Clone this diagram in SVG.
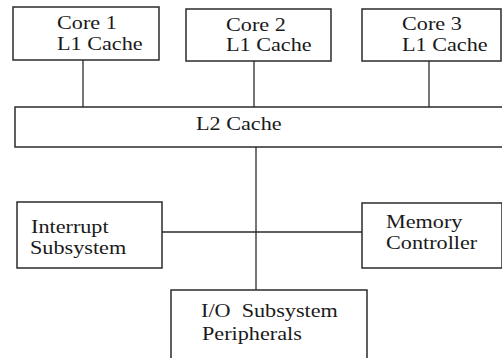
<svg xmlns="http://www.w3.org/2000/svg" width="502" height="358" viewBox="0 0 502 358">
<style>
.box{fill:#fff;stroke:#2b2b2b;stroke-width:1.5}
.ln{stroke:#2b2b2b;stroke-width:1.3;fill:none}
</style>
<rect width="502" height="358" fill="#fff"/>
<g id="connectors">
<line class="ln" x1="83" y1="60" x2="83" y2="107"/>
<line class="ln" x1="254" y1="61" x2="254" y2="107"/>
<line class="ln" x1="429" y1="61" x2="429" y2="107"/>
<line class="ln" x1="256" y1="147" x2="256" y2="290"/>
<line class="ln" x1="162" y1="232" x2="362" y2="232"/>
</g>
<g id="core1">
<rect class="box" x="13" y="7" width="146" height="53"/>
<text transform="translate(57 29) scale(1.2 1)" font-family="Liberation Serif" font-size="18.5" fill="#1a1a1a">Core 1</text>
<text transform="translate(57 50) scale(1.2 1)" font-family="Liberation Serif" font-size="18.5" fill="#1a1a1a">L1 Cache</text>
</g>
<g id="core2">
<rect class="box" x="186" y="9" width="145" height="52"/>
<text transform="translate(226 31) scale(1.2 1)" font-family="Liberation Serif" font-size="18.5" fill="#1a1a1a">Core 2</text>
<text transform="translate(226 51) scale(1.2 1)" font-family="Liberation Serif" font-size="18.5" fill="#1a1a1a">L1 Cache</text>
</g>
<g id="core3">
<rect class="box" x="362" y="9" width="139" height="52"/>
<text transform="translate(402 30) scale(1.2 1)" font-family="Liberation Serif" font-size="18.5" fill="#1a1a1a">Core 3</text>
<text transform="translate(402 51) scale(1.2 1)" font-family="Liberation Serif" font-size="18.5" fill="#1a1a1a">L1 Cache</text>
</g>
<g id="l2cache">
<rect class="box" x="15" y="107" width="500" height="40"/>
<text transform="translate(196 130) scale(1.2 1)" font-family="Liberation Serif" font-size="18.5" fill="#1a1a1a">L2 Cache</text>
</g>
<g id="interrupt">
<rect class="box" x="17" y="202" width="145" height="66"/>
<text transform="translate(31 233) scale(1.2 1)" font-family="Liberation Serif" font-size="18.5" fill="#1a1a1a">Interrupt</text>
<text transform="translate(30 254) scale(1.2 1)" font-family="Liberation Serif" font-size="18.5" fill="#1a1a1a">Subsystem</text>
</g>
<g id="memory">
<rect class="box" x="362" y="203" width="140" height="65"/>
<text transform="translate(386 228) scale(1.2 1)" font-family="Liberation Serif" font-size="18.5" fill="#1a1a1a">Memory</text>
<text transform="translate(386 249) scale(1.2 1)" font-family="Liberation Serif" font-size="18.5" fill="#1a1a1a">Controller</text>
</g>
<g id="io">
<rect class="box" x="171" y="290" width="196" height="80"/>
<text transform="translate(201 317) scale(1.2 1)" font-family="Liberation Serif" font-size="18.5" fill="#1a1a1a" xml:space="preserve">I/O  Subsystem</text>
<text transform="translate(202 340) scale(1.2 1)" font-family="Liberation Serif" font-size="18.5" fill="#1a1a1a">Peripherals</text>
</g>
</svg>
